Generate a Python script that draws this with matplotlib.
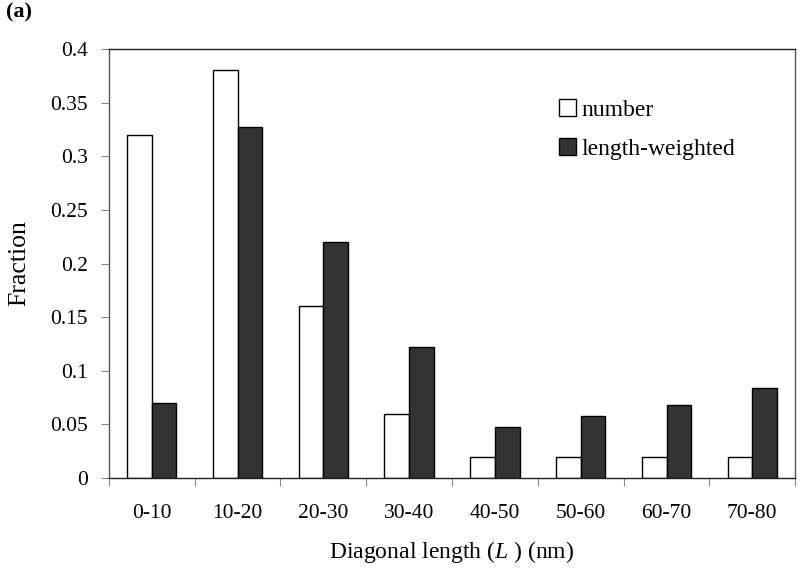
import matplotlib
matplotlib.use("Agg")
import matplotlib.pyplot as plt
import numpy as np
from matplotlib.patches import Patch

categories = ["0-10", "10-20", "20-30", "30-40", "40-50", "50-60", "60-70", "70-80"]
number = [0.32, 0.38, 0.16, 0.06, 0.02, 0.02, 0.02, 0.02]
length_weighted = [0.07, 0.327, 0.22, 0.122, 0.048, 0.058, 0.068, 0.084]
yticks = [0, 0.05, 0.1, 0.15, 0.2, 0.25, 0.3, 0.35, 0.4]
ytick_labels = ["0", "0.05", "0.1", "0.15", "0.2", "0.25", "0.3", "0.35", "0.4"]

plt.rcParams['font.family'] = ['Liberation Serif', 'DejaVu Serif']
plt.rcParams['mathtext.fontset'] = 'custom'
plt.rcParams['mathtext.it'] = 'Liberation Serif:italic'
plt.rcParams['mathtext.rm'] = 'Liberation Serif'

fig = plt.figure(figsize=(8, 5.7), dpi=100)
ax = fig.add_axes([0.136, 0.1614, 0.858, 0.7526])

x = np.arange(len(categories))
w = 0.288
ax.bar(x - w / 2, number, width=w, color="white", edgecolor="black", linewidth=1.0, label="number")
ax.bar(x + w / 2, length_weighted, width=w, color="#333333", edgecolor="black", linewidth=1.0, label="length-weighted")

ax.set_xlim(-0.5, len(categories) - 0.5)
ax.set_ylim(0, 0.4)
ax.set_yticks(yticks)
ax.set_yticklabels(ytick_labels)
ax.set_xticks(x)
ax.set_xticklabels(categories)
ax.set_xticks(np.arange(len(categories) + 1) - 0.5, minor=True)
ax.tick_params(axis='x', which='major', length=0, pad=19, labelsize=15.5)
ax.tick_params(axis='x', which='minor', length=6, width=0.8, color="#888888", direction='out')
ax.tick_params(axis='y', length=6, width=0.8, color="#888888", direction='out', labelsize=15.5, pad=9)

for s in ax.spines.values():
    s.set_linewidth(1.0)
    s.set_color("#222222")
ax.spines['left'].set_color("#555555")
ax.spines['right'].set_color("#555555")

ax.set_ylabel("Fraction", fontsize=18.5, labelpad=14)
ax.set_xlabel(r"Diagonal length ($L$ ) (nm)", fontsize=17, labelpad=11)

handles = [Patch(facecolor="white", edgecolor="black", linewidth=1.0),
           Patch(facecolor="#333333", edgecolor="black", linewidth=1.0)]
ax.legend(handles, ["number", "length-weighted"], loc="upper left",
          bbox_to_anchor=(0.625, 0.933), frameon=False, fontsize=17,
          handlelength=0.7, handleheight=0.7, handletextpad=0.25, labelspacing=0.75)

fig.text(0.007, 0.978, "(a)", fontsize=16, fontweight='bold', va='center', ha='left')

fig.savefig("out.png", dpi=100)
